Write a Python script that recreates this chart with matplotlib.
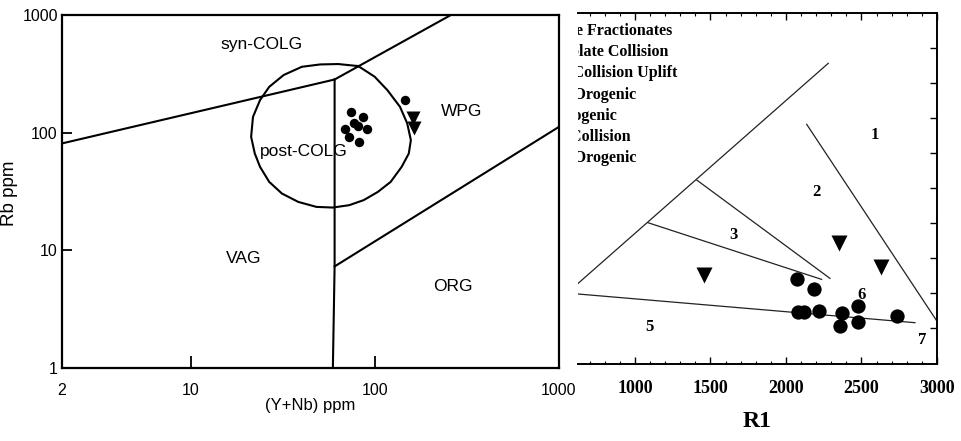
import matplotlib
matplotlib.use('Agg')
import matplotlib.pyplot as plt
from matplotlib.ticker import FixedLocator, NullLocator, NullFormatter

# ---- Left panel: Rb vs (Y+Nb), Pearce type diagram ----
pearce_xticks = [2, 10, 100, 1000]
pearce_yticks = [1, 10, 100, 1000]

# field boundaries, (Y+Nb, Rb) in ppm
syn_vag_x = [2, 60.5]
syn_vag_y = [81, 283]
syn_wpg_x = [60.5, 259]
syn_wpg_y = [283, 1000]
vag_wpg_x = [60.5, 60.5, 59.2]
vag_wpg_y = [283, 7.3, 1]
wpg_org_x = [60.5, 1000]
wpg_org_y = [7.3, 112]

# post-COLG field outline
post_colg_x = [81.3, 99.8, 117, 137, 150, 157, 153, 140, 122, 104, 87, 72.6, 59.2,
               48.2, 38.4, 31.3, 26.7, 23.8, 22.3, 21.3, 21.8, 23.8, 26.7, 32.0,
               40.2, 50.5, 63.3, 81.3]
post_colg_y = [368, 299, 230, 166, 120, 86.4, 66.5, 51.3, 38.2, 31.4, 26.7, 24.2, 23.1,
               23.4, 25.8, 30.4, 38.2, 51.3, 66.5, 92.2, 136, 189, 245, 309,
               363, 380, 383, 368]

# samples
dots_x = [74.5, 86.5, 77.3, 69.0, 81.3, 90.6, 72.0, 81.6, 145]
dots_y = [149, 135, 120, 108, 115, 107, 91.6, 84.0, 190]
tri_x = [161, 164]
tri_y = [133, 109]

field_names = ['syn-COLG', 'WPG', 'post-COLG', 'VAG', 'ORG']
field_x = [24.4, 297, 41.1, 19.4, 265]
field_y = [558, 151, 69, 8.57, 4.91]

# ---- Right panel: R1-R2 diagram (cropped) ----
r1_ticks_major = [1000, 1500, 2000, 2500, 3000]
r1_ticks_minor = list(range(700, 3001, 100))
r2_ticks = [200, 400, 600, 800, 1000, 1200, 1400, 1600, 1800]

upper_r1 = [400, 2280]
upper_r2 = [288, 1713]
lower_r1 = [400, 2854]
lower_r2 = [413, 233]
f3_low_r1 = [1088, 2236]
f3_low_r2 = [803, 480]
f3_up_r1 = [1409, 2291]
f3_up_r2 = [1047, 486]
f12_r1 = [2137, 2998]
f12_r2 = [1365, 244]

bb_dots_r1 = [2075, 2186, 2082, 2119, 2221, 2369, 2358, 2479, 2479, 2733]
bb_dots_r2 = [480, 423, 296, 296, 300, 286, 214, 328, 239, 271]
bb_tri_r1 = [1457, 2353, 2627]
bb_tri_r2 = [505, 686, 552]

zone_nums = ['1', '2', '3', '5', '6', '7']
zone_r1 = [2590, 2203, 1651, 1099, 2501, 2899]
zone_r2 = [1303, 980, 733, 210, 391, 134]

# legend lines, only the right part shows in the crop
legend_names = ['1 Mantle Fractionates', '2 Pre-plate Collision', '3 Post-Collision Uplift',
                '4 Late-Orogenic', '5 Anorogenic', '6 Syn-Collision', '7 Post-Orogenic']
legend_end_r1 = [1250, 1220, 1280, 1011, 879, 974, 1011]
legend_r2 = [1897, 1776, 1659, 1533, 1414, 1294, 1174]

sans = 'Liberation Sans'
serif = 'Liberation Serif'

fig = plt.figure(figsize=(9.62, 4.41), dpi=100)

# left panel
ax1 = fig.add_axes([0.0644, 0.1655, 0.5166, 0.8005])
ax1.set_xscale('log')
ax1.set_yscale('log')
ax1.set_xlim(2, 1000)
ax1.set_ylim(1, 1000)
for bx, by in [(syn_vag_x, syn_vag_y), (syn_wpg_x, syn_wpg_y),
               (vag_wpg_x, vag_wpg_y), (wpg_org_x, wpg_org_y)]:
    ax1.plot(bx, by, color='black', lw=1.5)
ax1.plot(post_colg_x, post_colg_y, color='black', lw=1.5)
ax1.plot(dots_x, dots_y, 'o', color='black', ms=6.8, mec='none')
ax1.plot(tri_x, tri_y, 'v', color='black', ms=10, mec='none')
for name, fx, fy in zip(field_names, field_x, field_y):
    ax1.text(fx, fy, name, ha='center', va='center', fontsize=12.5, family=sans)

ax1.xaxis.set_major_locator(FixedLocator(pearce_xticks))
ax1.yaxis.set_major_locator(FixedLocator(pearce_yticks))
ax1.xaxis.set_minor_locator(NullLocator())
ax1.yaxis.set_minor_locator(NullLocator())
ax1.xaxis.set_minor_formatter(NullFormatter())
ax1.yaxis.set_minor_formatter(NullFormatter())
ax1.set_xticklabels([str(t) for t in pearce_xticks], family=sans, fontsize=11.5)
ax1.set_yticklabels([str(t) for t in pearce_yticks], family=sans, fontsize=11.5)
ax1.tick_params(axis='x', direction='in', length=9, width=1.3, pad=11)
ax1.tick_params(axis='y', direction='in', length=7.5, width=1.3, pad=3)
for sp in ax1.spines.values():
    sp.set_linewidth(1.6)
ax1.set_xlabel('(Y+Nb) ppm', family=sans, fontsize=12, labelpad=0)
ax1.set_ylabel('Rb ppm', family=sans, fontsize=13.5)
ax1.yaxis.set_label_coords(-0.088, 0.496)

# right panel
ax2 = fig.add_axes([0.6008, 0.1757, 0.3732, 0.7948])
ax2.set_xlim(622.5, 3000)
ax2.set_ylim(0, 2000)
for lx, ly in [(upper_r1, upper_r2), (lower_r1, lower_r2), (f3_low_r1, f3_low_r2),
               (f3_up_r1, f3_up_r2), (f12_r1, f12_r2)]:
    ax2.plot(lx, ly, color='#222222', lw=0.9)
ax2.plot(bb_dots_r1, bb_dots_r2, 'o', color='black', ms=10.3, mec='none')
ax2.plot(bb_tri_r1, bb_tri_r2, 'v', color='black', ms=11.2, mec='none')
for num, zx, zy in zip(zone_nums, zone_r1, zone_r2):
    ax2.text(zx, zy, num, ha='center', va='center', fontsize=12,
             family=serif, fontweight='bold')
for name, lx, ly in zip(legend_names, legend_end_r1, legend_r2):
    ax2.text(lx, ly, name, ha='right', va='center', fontsize=11.5,
             family=serif, fontweight='bold', clip_on=True)

ax2.spines['left'].set_visible(False)
for side in ['top', 'right', 'bottom']:
    ax2.spines[side].set_linewidth(1.4)
ax2.xaxis.set_major_locator(FixedLocator(r1_ticks_major))
ax2.xaxis.set_minor_locator(FixedLocator(r1_ticks_minor))
ax2.set_xticklabels([str(t) for t in r1_ticks_major], family=serif,
                    fontweight='bold', fontsize=13)
ax2.tick_params(axis='x', which='major', direction='in', top=True, length=5, width=1, pad=12)
ax2.tick_params(axis='x', which='minor', direction='in', top=True, length=2.5, width=0.8)
ax2.yaxis.set_major_locator(FixedLocator(r2_ticks))
ax2.yaxis.set_minor_locator(NullLocator())
ax2.tick_params(axis='y', direction='in', left=False, right=True, labelleft=False,
                length=5, width=1)
ax2.set_xlabel('R1', family=serif, fontweight='bold', fontsize=17, labelpad=10)

fig.savefig('out.png', dpi=100)
